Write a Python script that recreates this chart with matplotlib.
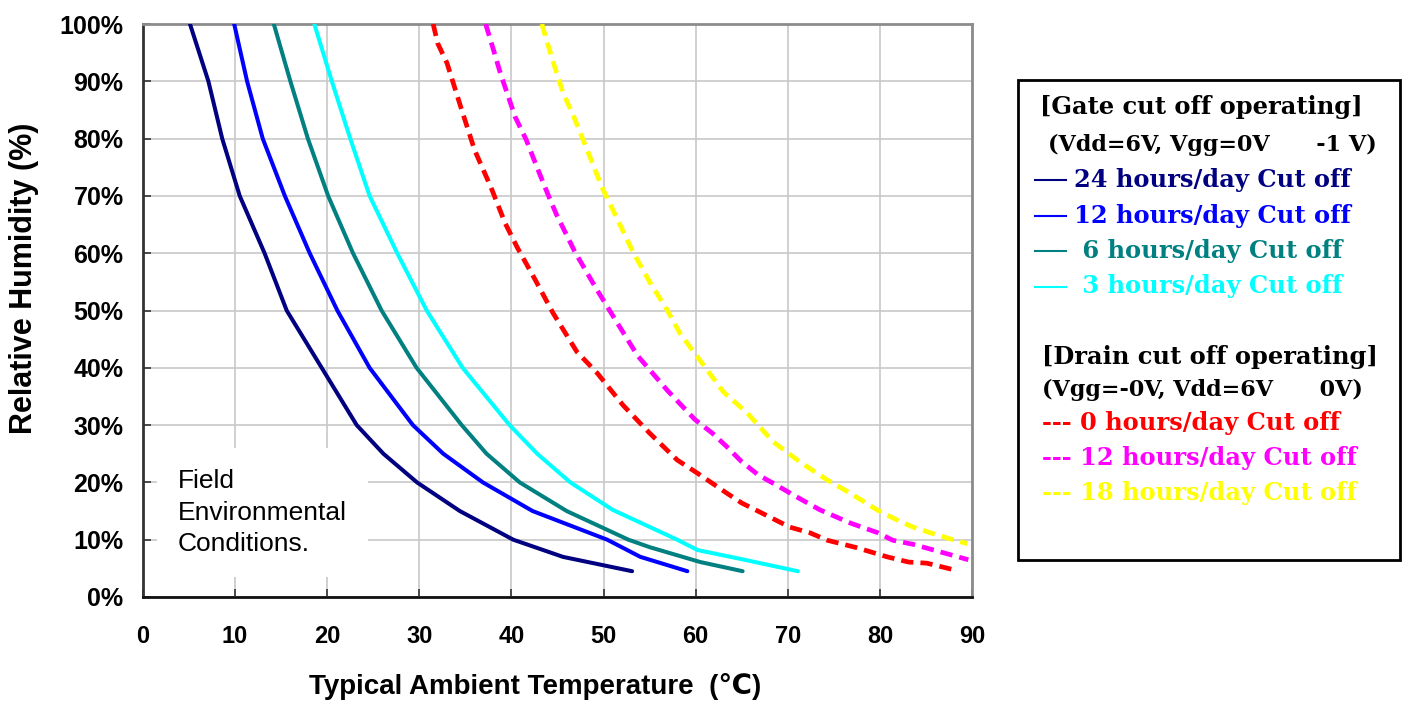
import matplotlib
matplotlib.use("Agg")
import matplotlib.pyplot as plt

# curves (temperature C, RH %)
navy_x = [5.1, 7.1, 8.6, 10.5, 13.2, 15.6, 19.4, 23.2, 26.1, 29.75, 34.4, 40.2, 45.6, 53.1]
navy_y = [100, 90, 80, 70, 60, 50, 40, 30, 25, 20, 15, 10, 7, 4.5]

blue_x = [9.9, 11.3, 13.0, 15.4, 18.1, 21.1, 24.6, 29.3, 32.6, 36.9, 42.3, 50.4, 54.0, 59.1]
blue_y = [100, 90, 80, 70, 60, 50, 40, 30, 25, 20, 15, 10, 7, 4.5]

teal_x = [14.2, 16.0, 17.9, 20.1, 22.8, 25.9, 29.7, 34.6, 37.3, 40.9, 46.0, 52.7, 55.0, 60.5, 65.1]
teal_y = [100, 90, 80, 70, 60, 50, 40, 30, 25, 20, 15, 10, 8.7, 6.1, 4.5]

cyan_x = [18.6, 20.5, 22.5, 24.6, 27.6, 30.8, 34.7, 39.8, 42.8, 46.4, 51.0, 58.0, 60.2, 65.0, 71.1]
cyan_y = [100, 90, 80, 70, 60, 50, 40, 30, 25, 20, 15.2, 10, 8.2, 6.6, 4.5]

red_x = [31.5, 32.0, 33.0, 34.6, 36.0, 37.8, 39.3, 40.6, 42.6, 44.5, 47.1, 49.3, 52.1, 55.0,
         58.0, 60.2, 63.4, 65.0, 67.0, 70.2, 72.4, 74.3, 77.5, 80.8, 83.1, 85.1, 87.9]
red_y = [100, 96.6, 93.2, 85, 78, 71.4, 65.3, 61.1, 55.3, 49.6, 42.8, 39.1, 33.5, 28.6,
         23.9, 21.6, 18.1, 16.4, 14.8, 12.2, 11.2, 9.9, 8.6, 7.0, 6.1, 5.9, 4.8]

mag_x = [37.2, 38.1, 38.8, 39.6, 40.4, 41.6, 42.8, 43.9, 44.9, 46.9, 49.1, 51.5, 53.7, 56.9,
         59.9, 61.8, 63.4, 65.0, 66.8, 68.8, 70.6, 73.5, 76.8, 79.8, 81.4, 83.6, 86.5, 89.6]
mag_y = [100, 95.2, 91.4, 87.6, 83.8, 79.8, 74.9, 70.5, 66.7, 60.2, 54.1, 47.8, 42.1, 36.1,
         31.0, 28.6, 26.2, 23.6, 21.3, 19.5, 17.8, 15.2, 12.9, 11.2, 9.9, 9.2, 7.9, 6.5]

yel_x = [43.3, 43.9, 44.7, 45.6, 46.7, 48.3, 49.8, 51.8, 53.2, 55.0, 56.9, 58.3, 60.7, 63.0,
         65.6, 68.4, 71.3, 74.3, 76.8, 79.7, 81.9, 83.6, 85.5, 87.3, 89.5]
yel_y = [100, 96.7, 92.5, 88, 84.1, 77.7, 71.6, 64.9, 60.2, 55.0, 50.1, 46.0, 40.8, 35.8,
         32.1, 27.1, 23.6, 20.4, 18.1, 15.2, 13.4, 12.2, 11.2, 10.3, 9.3]

x_ticks = [0, 10, 20, 30, 40, 50, 60, 70, 80, 90]
y_ticks = [0, 10, 20, 30, 40, 50, 60, 70, 80, 90, 100]

gate_labels = ["24 hours/day Cut off", "12 hours/day Cut off", " 6 hours/day Cut off", " 3 hours/day Cut off"]
gate_colors = ["#000080", "#0000ff", "#008080", "#00ffff"]
drain_labels = ["0 hours/day Cut off", "12 hours/day Cut off", "18 hours/day Cut off"]
drain_colors = ["#ff0000", "#ff00ff", "#ffff00"]

sans = ["Liberation Sans", "DejaVu Sans"]
serif = ["DejaVu Serif"]

fig = plt.figure(figsize=(14.06, 7.04), dpi=100)
ax = fig.add_axes([143/1406, 1-597/704, (972-143)/1406, (597-24)/704])

for xs, ys, c in zip([navy_x, blue_x, teal_x, cyan_x], [navy_y, blue_y, teal_y, cyan_y], gate_colors):
    ax.plot(xs, ys, color=c, lw=2.9, solid_capstyle="round", solid_joinstyle="round", zorder=3)
for xs, ys, c in zip([red_x, mag_x, yel_x], [red_y, mag_y, yel_y], drain_colors):
    ax.plot(xs, ys, color=c, lw=3.4, dashes=(2.6, 1.5), zorder=3)

ax.set_xlim(0, 90)
ax.set_ylim(0, 100)
ax.set_xticks(x_ticks)
ax.set_yticks(y_ticks)
ax.set_xticklabels([str(v) for v in x_ticks], fontsize=17, fontweight="bold", family=sans)
ax.set_yticklabels([f"{v}%" for v in y_ticks], fontsize=18, fontweight="bold", family=sans)
ax.tick_params(axis="both", direction="in", length=6, width=1.2, color="#333333")
ax.tick_params(axis="x", pad=20)
ax.tick_params(axis="y", pad=14)
ax.grid(True, color="#c8c8c8", lw=1.2, zorder=0)
ax.set_axisbelow(True)
ax.spines["left"].set_color("#333333")
ax.spines["bottom"].set_color("#111111")
ax.spines["top"].set_color("#8c8c8c")
ax.spines["right"].set_color("#8c8c8c")
for s in ax.spines.values():
    s.set_linewidth(2)

ax.set_xlabel("Typical Ambient Temperature  (\u2103)", fontsize=20, fontweight="bold", family=sans)
ax.set_ylabel("Relative Humidity (%)", fontsize=22, fontweight="bold", family=sans)
ax.xaxis.set_label_coords(0.473, -0.133)
ax.yaxis.set_label_coords(-0.126, 0.557)

ax.text(0.042, 0.147, "Field\nEnvironmental\nConditions.", transform=ax.transAxes, fontsize=19,
        family=sans, va="center", ha="left", linespacing=1.4, zorder=4,
        bbox=dict(facecolor="white", edgecolor="none", pad=15))

# legend box drawn as figure text
fig.patches.append(plt.Rectangle((1018/1406, 1-560/704), (1400-1018)/1406, (560-80)/704,
                                 transform=fig.transFigure, fill=False, edgecolor="black", lw=2))

def fy(py):
    return 1 - py/704

fig.text(1040/1406, fy(107), "[Gate cut off operating]", fontsize=17.4, fontweight="bold", family=serif, va="center")
fig.text(1048/1406, fy(145), "(Vdd=6V, Vgg=0V      -1 V)", fontsize=16, fontweight="bold", family=serif, va="center")
for i, (lab, c) in enumerate(zip(gate_labels, gate_colors)):
    y = 180 + i*35.5
    fig.lines.append(plt.Line2D([1035/1406, 1066/1406], [fy(y), fy(y)], transform=fig.transFigure, color=c, lw=1.5))
    fig.text(1074/1406, fy(y), lab, fontsize=17.4, fontweight="bold", family=serif, color=c, va="center")

fig.text(1042/1406, fy(357), "[Drain cut off operating]", fontsize=17.4, fontweight="bold", family=serif, va="center")
fig.text(1042/1406, fy(390), "(Vgg=-0V, Vdd=6V      0V)", fontsize=16, fontweight="bold", family=serif, va="center")
for i, (lab, c) in enumerate(zip(drain_labels, drain_colors)):
    y = 423 + i*35
    fig.text(1042/1406, fy(y), "--- " + lab, fontsize=17.4, fontweight="bold", family=serif, color=c, va="center")

fig.savefig("out.png", dpi=100, facecolor="white")
